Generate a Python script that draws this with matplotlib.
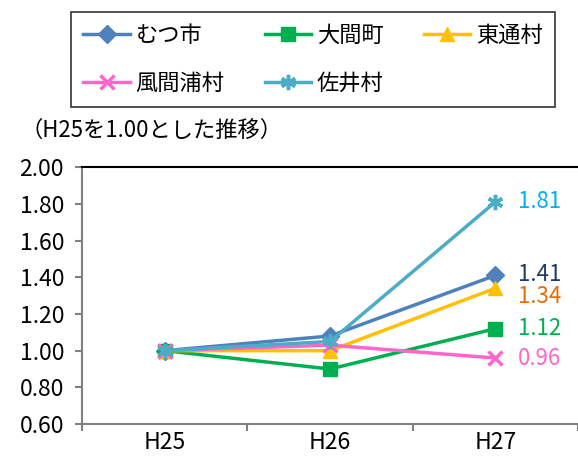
import matplotlib
matplotlib.use("Agg")
import matplotlib.pyplot as plt

plt.rcParams['font.family'] = ['Noto Sans CJK JP', 'DejaVu Sans']

years = ["H25", "H26", "H27"]
names = ["むつ市", "大間町", "東通村", "風間浦村", "佐井村"]
mutsu = [1.00, 1.08, 1.41]
oma = [1.00, 0.90, 1.12]
higashidori = [1.00, 1.00, 1.34]
kazamaura = [1.00, 1.03, 0.96]
sai = [1.00, 1.05, 1.81]
series = [mutsu, oma, higashidori, kazamaura, sai]

line_colors = ["#4F81BD", "#00B050", "#FFC000", "#FF66CC", "#4BACC6"]
label_colors = ["#1F3864", "#00B050", "#E46C0A", "#FF66CC", "#00B0F0"]
markers = ["D", "s", "^", "x", (6, 2, 0)]
msizes = [9, 10, 10, 10, 11]
label_dy = [1, 0, -6, 0, 0]  # small nudges so the 1.41 / 1.34 labels don't collide

fig = plt.figure(figsize=(5.78, 4.59), dpi=100)
ax = fig.add_axes([0.142, 0.076, 0.858, 0.560])

x = list(range(len(years)))
handles = []
for vals, name, c, m, ms in zip(series, names, line_colors, markers, msizes):
    h, = ax.plot(x, vals, color=c, lw=2.5, marker=m, markersize=ms,
                 markeredgewidth=2.5 if m in ("x", (6, 2, 0)) else 1,
                 markeredgecolor=c, markerfacecolor=c, label=name, zorder=3)
    handles.append(h)

for vals, lc, dy in zip(series, label_colors, label_dy):
    ax.annotate(f"{vals[-1]:.2f}", (x[-1], vals[-1]), xytext=(16, dy),
                textcoords="offset points", color=lc, fontsize=16,
                va="center", ha="left", annotation_clip=False)

ax.set_xlim(-0.5, 2.5)
ax.set_ylim(0.6, 2.0)
ax.set_yticks([0.6 + 0.2 * i for i in range(8)])
ax.set_yticklabels([f"{0.6 + 0.2 * i:.2f}" for i in range(8)], fontsize=16.5)
ax.set_xticks([-0.5, 0.5, 1.5, 2.5])
ax.set_xticklabels([])
ax.set_xticks(x, minor=True)
ax.set_xticklabels(years, minor=True, fontsize=16.5)
ax.tick_params(axis="x", which="minor", length=0, pad=5)
ax.tick_params(axis="both", which="major", color="#808080", length=5, width=1.5)
ax.tick_params(axis="y", pad=8)

ax.spines["right"].set_visible(False)
ax.spines["left"].set_color("#808080")
ax.spines["bottom"].set_color("#808080")
ax.spines["left"].set_linewidth(1.5)
ax.spines["bottom"].set_linewidth(1.5)
ax.spines["top"].set_color("black")
ax.spines["top"].set_linewidth(1.5)

fig.text(0.035, 0.716, "（H25を1.00とした推移）", fontsize=16, va="center")

# Excel fills the legend row by row; matplotlib fills by column
order = [0, 3, 1, 4, 2]
leg = fig.legend([handles[i] for i in order], [names[i] for i in order],
                 loc="upper left", bbox_to_anchor=(0.123, 0.974),
                 ncol=3, fontsize=16, frameon=True, fancybox=False,
                 edgecolor="black", handlelength=2.1, columnspacing=1.8,
                 borderpad=0.55, labelspacing=1.1, handletextpad=0.25,
                 borderaxespad=0)
leg.get_frame().set_linewidth(1.2)

fig.savefig("out.png", dpi=100)
